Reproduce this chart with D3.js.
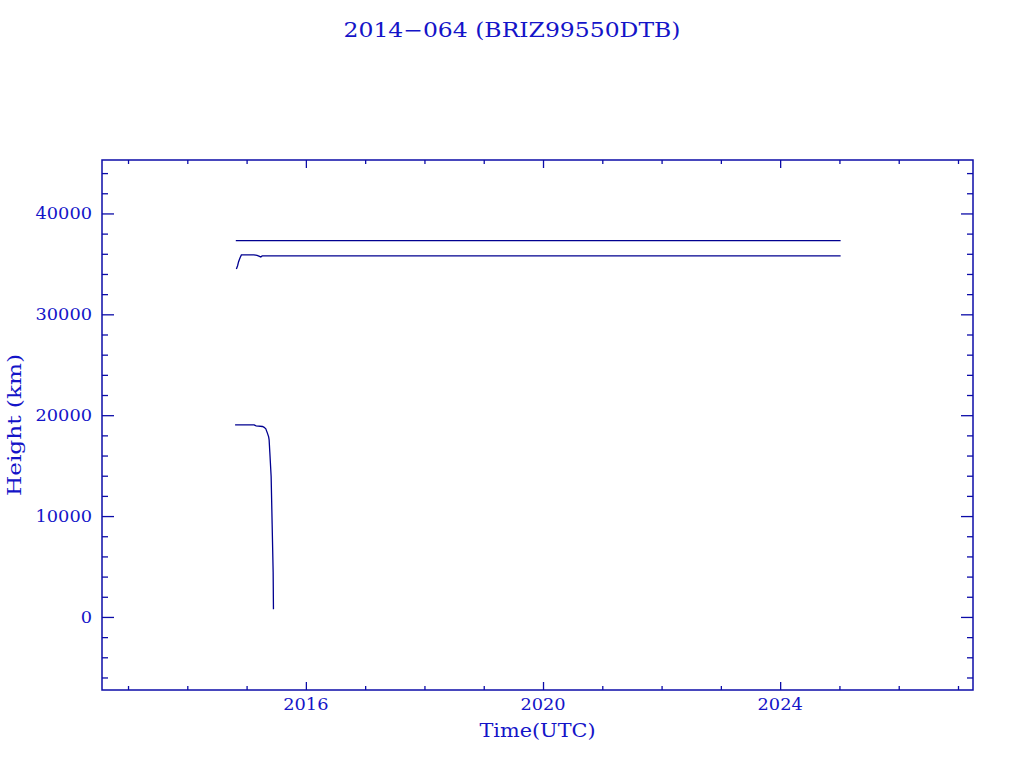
<!DOCTYPE html>
<html>
<head>
<meta charset="utf-8">
<script src="https://cdn.jsdelivr.net/npm/d3@7"></script>
<style>
  html, body { margin: 0; padding: 0; background: #ffffff; }
  svg { display: block; }
</style>
</head>
<body>
<svg id="chart" width="1024" height="768"></svg>
<script>
// ---- data (decimal years, km) ----
const titleText = "2014\u2212064 (BRIZ99550DTB)";
const xLabel = "Time(UTC)";
const yLabel = "Height (km)";

const apogeeTimes   = [2014.818, 2016.0, 2020.0, 2025.02];
const apogeeValues  = [37302, 37302, 37302, 37302];

const geoTimes  = [2014.828, 2014.848, 2014.865, 2014.890, 2014.912, 2015.127, 2015.177, 2015.240, 2015.262, 2020.0, 2025.02];
const geoValues = [34494, 34821, 35218, 35615, 35883, 35883, 35833, 35685, 35784, 35784, 35784];

const decayTimes  = [2014.806, 2015.127, 2015.160, 2015.267, 2015.296, 2015.324, 2015.351, 2015.372, 2015.380, 2015.392, 2015.414, 2015.431, 2015.448, 2015.453];
const decayValues = [19048, 19048, 18948, 18879, 18800, 18651, 18224, 17857, 17560, 16300, 13919, 9196, 4435, 764];

const xMajorTicks = [2016, 2020, 2024];
const xMinorTicks = [2013, 2014, 2015, 2017, 2018, 2019, 2021, 2022, 2023, 2025, 2026, 2027];
const yMajorTicks = [0, 10000, 20000, 30000, 40000];
const yMinorTicks = [-6000, -4000, -2000, 2000, 4000, 6000, 8000, 12000, 14000, 16000, 18000,
                     22000, 24000, 26000, 28000, 32000, 34000, 36000, 38000, 42000, 44000];

// ---- layout ----
const textColor = "#1414c8";
const axisColor = "#0c0ca8";
const lineColor = "#000090";
const pLeft = 102, pRight = 973, pTop = 160, pBottom = 690;

const svg = d3.select("#chart");
const x = d3.scaleLinear().domain([2012.561, 2027.253]).range([pLeft, pRight]);
const y = d3.scaleLinear().domain([-7242, 45298]).range([pBottom, pTop]);

const font = "'DejaVu Serif', serif";

function styleAxis(g) {
  g.select(".domain").remove();
  g.selectAll("line").attr("stroke", axisColor).attr("stroke-width", 1.3);
  g.selectAll("text").remove();
}

// minor ticks
svg.append("g").attr("transform", `translate(0,${pBottom})`)
  .call(d3.axisTop(x).tickValues(xMinorTicks).tickSize(4)).call(styleAxis);
svg.append("g").attr("transform", `translate(0,${pTop})`)
  .call(d3.axisBottom(x).tickValues(xMinorTicks).tickSize(4)).call(styleAxis);
svg.append("g").attr("transform", `translate(${pLeft},0)`)
  .call(d3.axisRight(y).tickValues(yMinorTicks).tickSize(6)).call(styleAxis);
svg.append("g").attr("transform", `translate(${pRight},0)`)
  .call(d3.axisLeft(y).tickValues(yMinorTicks).tickSize(6)).call(styleAxis);
// major ticks
svg.append("g").attr("transform", `translate(0,${pBottom})`)
  .call(d3.axisTop(x).tickValues(xMajorTicks).tickSize(8)).call(styleAxis);
svg.append("g").attr("transform", `translate(0,${pTop})`)
  .call(d3.axisBottom(x).tickValues(xMajorTicks).tickSize(8)).call(styleAxis);
svg.append("g").attr("transform", `translate(${pLeft},0)`)
  .call(d3.axisRight(y).tickValues(yMajorTicks).tickSize(12)).call(styleAxis);
svg.append("g").attr("transform", `translate(${pRight},0)`)
  .call(d3.axisLeft(y).tickValues(yMajorTicks).tickSize(12)).call(styleAxis);

// frame
svg.append("rect")
  .attr("x", pLeft).attr("y", pTop)
  .attr("width", pRight - pLeft).attr("height", pBottom - pTop)
  .attr("fill", "none").attr("stroke", axisColor).attr("stroke-width", 1.5);

// tick labels
const digitW = 11.3;
svg.append("g").selectAll("text").data(xMajorTicks).join("text")
  .attr("x", d => x(d)).attr("y", 710)
  .attr("text-anchor", "middle")
  .attr("font-family", font).attr("font-size", 17)
  .attr("fill", textColor)
  .attr("textLength", d => String(d).length * digitW)
  .attr("lengthAdjust", "spacingAndGlyphs")
  .text(d => String(d));

svg.append("g").selectAll("text").data(yMajorTicks).join("text")
  .attr("x", 92).attr("y", d => y(d) + 6)
  .attr("text-anchor", "end")
  .attr("font-family", font).attr("font-size", 17)
  .attr("fill", textColor)
  .attr("textLength", d => String(d).length * digitW)
  .attr("lengthAdjust", "spacingAndGlyphs")
  .text(d => String(d));

// title & axis labels
svg.append("text")
  .attr("x", 512).attr("y", 37)
  .attr("text-anchor", "middle")
  .attr("font-family", font).attr("font-size", 20)
  .attr("fill", textColor)
  .attr("textLength", 337).attr("lengthAdjust", "spacingAndGlyphs")
  .text(titleText);

svg.append("text")
  .attr("x", (pLeft + pRight) / 2).attr("y", 737)
  .attr("text-anchor", "middle")
  .attr("font-family", font).attr("font-size", 18)
  .attr("fill", textColor)
  .attr("textLength", 116).attr("lengthAdjust", "spacingAndGlyphs")
  .text(xLabel);

svg.append("text")
  .attr("transform", `translate(21,${(pTop + pBottom) / 2}) rotate(-90)`)
  .attr("text-anchor", "middle")
  .attr("font-family", font).attr("font-size", 18)
  .attr("fill", textColor)
  .attr("textLength", 142).attr("lengthAdjust", "spacingAndGlyphs")
  .text(yLabel);

// data lines
const line = d3.line().x(d => x(d[0])).y(d => y(d[1]));
const series = [
  d3.zip(apogeeTimes, apogeeValues),
  d3.zip(geoTimes, geoValues),
  d3.zip(decayTimes, decayValues)
];
svg.append("g").selectAll("path").data(series).join("path")
  .attr("d", line)
  .attr("fill", "none")
  .attr("stroke", lineColor)
  .attr("stroke-width", 1.3);
</script>
</body>
</html>
